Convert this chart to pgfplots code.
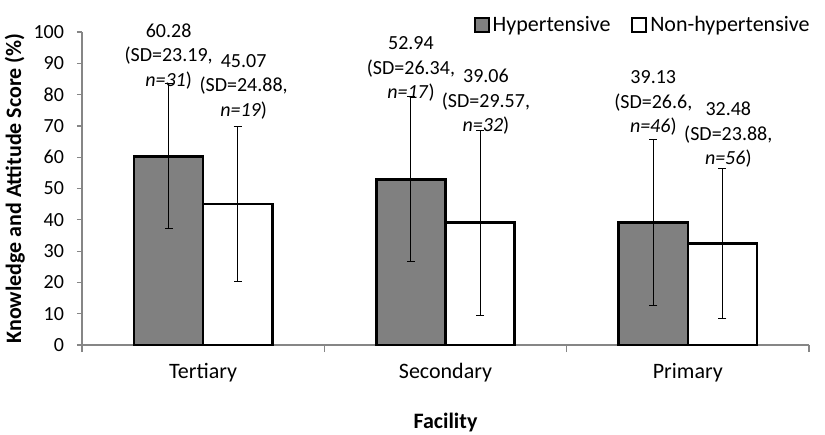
\documentclass[border=0pt]{standalone}
\usepackage{fontspec}
\setmainfont{Carlito}
\usepackage{pgfplots}
\pgfplotsset{compat=1.18}
\definecolor{hypgray}{HTML}{808080}
\definecolor{axgray}{HTML}{868686}
\begin{document}
\begin{tikzpicture}[font=\fontsize{11}{12.5}\selectfont]
\begin{axis}[
    name=ax,
    scale only axis,
    width=363.5pt, height=156.5pt,
    ybar=0pt, bar width=0.285,
    xmin=-0.5, xmax=2.5, ymin=0, ymax=100,
    xtick={0,1,2},
    xticklabels={Tertiary,Secondary,Primary},
    minor xtick={-0.5,0.5,1.5,2.5},
    ytick={0,10,...,100},
    axis x line*=bottom, axis y line*=left,
    axis line style={axgray, line width=0.6pt},
    tick align=outside,
    major tick length=2.5pt, minor tick length=3.5pt,
    major x tick style={draw=none},
    minor x tick style={axgray, line width=0.6pt},
    y tick style={axgray, line width=0.6pt},
    yticklabel style={font=\fontsize{10}{12}\selectfont, xshift=-3pt},
    /pgf/number format/assume math mode=true,
    xticklabel style={yshift=-3pt},
    xlabel={\textbf{Facility}},
    ylabel={\textbf{Knowledge and Attitude Score (\%)}},
    xlabel shift=8.5pt,
    ylabel shift=-2.5pt,
    clip=false,
    legend style={at={(rel axis cs:1,1)}, anchor=east, xshift=2pt, yshift=3.5pt,
        draw=none, fill=none, inner sep=0pt, legend columns=2,
        nodes={inner sep=1.5pt},
        /tikz/every even column/.append style={column sep=9pt}},
    legend cell align=left,
    legend image code/.code={\draw[#1, line width=0.9pt] (0pt,-3.5pt) rectangle (7pt,3.5pt);},
]
\addplot[fill=hypgray, draw=black, line width=1.3pt, bar shift=-0.1425,
    error bars/.cd, y dir=both, y explicit,
    error bar style={black, line width=0.5pt},
    error mark=-,
    error mark options={rotate=90, black, mark size=2pt, line width=0.5pt}]
    coordinates {(0,60.28) +- (0,23.19) (1,52.94) +- (0,26.34) (2,39.13) +- (0,26.6)};
\addlegendentry{Hypertensive}
\addplot[fill=white, draw=black, line width=1.3pt, bar shift=0.1425,
    error bars/.cd, y dir=both, y explicit,
    error bar style={black, line width=0.5pt},
    error mark=-,
    error mark options={rotate=90, black, mark size=2pt, line width=0.5pt}]
    coordinates {(0,45.07) +- (0,24.88) (1,39.06) +- (0,29.57) (2,32.48) +- (0,23.88)};
\addlegendentry{Non-hypertensive}
\addplot[forget plot, sharp plot, draw=none, mark=none, bar shift=0pt,
    nodes near coords, point meta=explicit symbolic,
    every node near coord/.append style={anchor=center, align=center, text=black,
        font=\fontsize{10}{12.25}\selectfont}]
    coordinates {
    (-0.1425,92.3) [{60.28\\(SD=23.19,\\\textit{n=31})}]
    (0.167,82.6) [{45.07\\(SD=24.88,\\\textit{n=19})}]
    (0.8575,88.2) [{52.94\\(SD=26.34,\\\textit{n=17})}]
    (1.167,77.6) [{39.06\\(SD=29.57,\\\textit{n=32})}]
    (1.8575,77.2) [{39.13\\(SD=26.6,\\\textit{n=46})}]
    (2.167,67.1) [{32.48\\(SD=23.88,\\\textit{n=56})}]
    };
\end{axis}
\pgfresetboundingbox
\path ([shift={(-41pt,-44.5pt)}]ax.south west) rectangle ([shift={(371.5pt,172.5pt)}]ax.south west);
\end{tikzpicture}
\end{document}
